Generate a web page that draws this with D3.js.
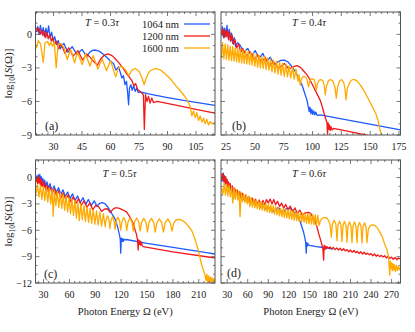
<!DOCTYPE html>
<html><head><meta charset="utf-8">
<script src="https://cdn.jsdelivr.net/npm/d3@7"></script>
<style>
html,body{margin:0;padding:0;background:#fff;}
svg{display:block;}
svg text{font-family:"Liberation Serif","Times New Roman",serif;}
</style></head><body>
<svg id="c" width="415" height="332"></svg>
<script>
// ---------- data ----------
const seriesNames = ["1064 nm", "1200 nm", "1600 nm"];
const seriesColors = ["#1e5aff", "#f01a1a", "#ffaa00"];
const panelTitles = ["0.3", "0.4", "0.5", "0.6"];
const panelLetters = ["(a)", "(b)", "(c)", "(d)"];

const xTicksA = [30, 45, 60, 75, 90, 105];
const xTicksB = [25, 50, 75, 100, 125, 150, 175];
const xTicksC = [30, 60, 90, 120, 150, 180, 210];
const xTicksD = [30, 60, 90, 120, 150, 180, 210, 240, 270];
const yTicksAB = [0, -3, -6, -9];
const yTicksCD = [0, -3, -6, -9, -12];

// Panel (a) T = 0.3 tau
const a1064 = [[21,0.2],[21.7,0.7],[22.4,0.0],[23.1,0.8],[23.8,0.1],[24.6,0.6],[25.3,-0.2],[26,0.55],[26.7,-0.1],[27.4,0.75],[28.2,-0.3],[29,0.2],[29.8,-0.6],[30.6,-0.2],[31.5,-0.9],[32.5,-0.55],[33.5,-1.3],[35.4,-0.8],[37.5,-1.6],[39.8,-1.1],[42.3,-1.8],[45,-1.34],[47.5,-2.0],[49,-1.6],[50.5,-1.43],[52,-1.4],[54,-1.5],[56,-1.75],[58,-2.05],[60,-2.4],[61.6,-2.6],[62.8,-3.2],[64.2,-2.9],[65.3,-3.5],[66,-3.9],[66.8,-3.7],[67.6,-4.5],[68.4,-4.2],[69,-5.2],[69.5,-6.3],[70,-4.8],[70.7,-4.5],[71.4,-5.0],[72.2,-4.6],[73,-5.1],[73.8,-4.8],[74.6,-5.2],[75.6,-5.15],[80,-5.33],[90,-5.65],[100,-5.95],[115,-6.35]];
const a1200 = [[21,0.6],[21.6,0.3],[22.3,0.55],[23,0.0],[23.7,0.4],[24.4,-0.1],[25.1,0.3],[25.8,-0.3],[26.5,0.15],[27.2,-0.4],[28,0.0],[28.8,-0.6],[29.6,-0.3],[30.5,-0.9],[31.5,-0.6],[32.6,-1.3],[34,-0.85],[36,-1.7],[38,-1.2],[40.3,-1.95],[42.8,-1.45],[45.3,-2.3],[47.5,-1.75],[49.5,-2.1],[51.5,-2.5],[53.1,-2.75],[54.8,-2.2],[56.8,-1.85],[58.8,-1.75],[60.8,-1.9],[62.6,-2.2],[64.2,-2.5],[66.5,-3.0],[68.8,-3.6],[70,-3.85],[71.3,-4.15],[72.3,-4.6],[73.2,-4.4],[74.2,-4.9],[75.6,-5.1],[77.3,-5.4],[77.8,-8.5],[78.4,-5.4],[79.2,-6.0],[80,-5.55],[80.8,-6.15],[81.7,-5.7],[82.6,-6.1],[84.5,-6.0],[95,-6.35],[105,-6.7],[115,-7.05]];
const a1600 = [[21,-1.25],[22,-0.55],[23.2,-0.9],[24.6,-2.5],[25.5,-0.75],[26.9,-0.65],[27.8,-1.0],[28.6,-0.7],[29.5,-1.1],[30.4,-0.65],[31.4,-3.0],[32.4,-0.95],[33.8,-0.8],[35.5,-1.2],[37.2,-2.25],[39,-1.35],[41.1,-2.55],[42.6,-1.6],[45.1,-2.7],[46.9,-1.75],[49.2,-2.85],[50.9,-1.9],[53.3,-3.1],[55.6,-2.2],[57.9,-3.25],[60,-2.35],[62.7,-3.8],[64.2,-3.0],[66,-2.85],[68,-3.2],[69.6,-3.7],[71.2,-3.2],[73,-3.05],[75,-3.3],[76.6,-3.9],[77.7,-4.5],[78.8,-3.9],[80.5,-3.3],[83.5,-3.05],[86.5,-3.2],[88.5,-3.5],[91.4,-3.95],[94.9,-4.7],[97.5,-5.2],[99.3,-5.6],[101,-6.1],[102,-6.5],[102.8,-7.3],[103.7,-6.85],[104.6,-7.45],[105.4,-7.0],[106.3,-7.7],[107.2,-7.3],[108.1,-7.85],[109,-7.5],[109.8,-8.0],[110.7,-7.6],[111.6,-8.1],[112.5,-7.8],[113.5,-8.0],[115,-7.9]];

// Panel (b) T = 0.4 tau
const b1064 = [[21,0.1],[21.8,0.7],[22.8,-0.3],[23.8,0.55],[24.8,-0.2],[25.8,0.8],[26.8,-0.3],[27.8,0.45],[28.8,-0.6],[29.8,0.1],[30.8,-0.8],[32,-0.3],[33.2,-1.1],[35,-0.75],[37.1,-0.95],[40.5,-1.6],[43.8,-1.25],[47,-1.95],[50.2,-1.45],[53.5,-2.15],[56.9,-1.7],[60,-2.45],[63.3,-2.05],[66.8,-2.7],[70,-2.45],[72.5,-2.33],[75.5,-2.3],[78.5,-2.45],[81.5,-2.8],[84.9,-3.3],[87.8,-3.9],[90.8,-4.5],[93,-5.2],[95.2,-5.9],[96.4,-6.5],[97.1,-6.9],[97.8,-6.5],[98.6,-7.1],[99.4,-6.7],[100.2,-7.15],[101,-6.85],[101.9,-7.2],[102.8,-6.95],[104,-7.25],[106.6,-7.2],[176.3,-8.55]];
const b1200 = [[21,0.3],[21.6,-0.1],[22.5,0.5],[23.4,-0.3],[24.3,0.35],[25.2,-0.2],[26.2,0.4],[27.2,-0.5],[28.2,0.2],[29.2,-0.6],[30.3,-0.1],[31.4,-0.9],[32.7,-0.45],[34.2,-1.2],[36,-0.9],[37.8,-1.6],[39.4,-1.25],[42.6,-1.95],[45.8,-1.55],[49.2,-2.25],[52.5,-1.85],[55.7,-2.5],[58.9,-2.05],[62.5,-2.85],[66.1,-2.45],[70.5,-3.05],[75.5,-2.6],[79.5,-3.1],[83,-2.9],[86.4,-2.8],[89.5,-2.95],[92.5,-3.3],[95.1,-3.6],[98,-4.1],[100.9,-4.7],[103.8,-5.3],[106.7,-5.9],[108.5,-6.5],[110.1,-7.1],[111.3,-7.5],[112.5,-7.9],[113,-8.9],[113.5,-7.9],[114.1,-8.5],[114.7,-8.1],[115.3,-8.6],[116,-8.25],[117,-8.55],[118.2,-8.4],[130,-8.65],[146,-9.0],[150,-9.1]];
const b1600 = [[21,-2.1],[22,-0.75],[23.1,-2.2],[24.2,-0.85],[25.3,-2.25],[26.4,-0.95],[27.5,-2.3],[28.6,-1.05],[29.7,-2.35],[30.8,-1.1],[31.9,-2.4],[33,-1.2],[34.1,-2.45],[35.2,-1.25],[36.3,-2.5],[37.4,-1.35],[38.5,-2.55],[39.6,-1.4],[40.7,-2.6],[41.9,-1.45],[43,-2.65],[44.2,-1.5],[45.3,-2.7],[46.5,-1.6],[47.6,-2.75],[48.8,-1.7],[50,-2.85],[51.2,-1.8],[52.4,-2.95],[53.6,-1.85],[54.8,-3.0],[56,-1.95],[57.2,-3.05],[58.5,-2.0],[59.7,-3.15],[61,-2.1],[62.2,-3.2],[63.5,-2.2],[64.8,-3.35],[66.1,-2.3],[67.4,-3.45],[68.7,-2.4],[70,-3.55],[71.4,-2.5],[72.7,-3.65],[74.1,-2.6],[75.5,-3.75],[76.9,-2.7],[78.3,-3.8],[79.7,-2.8],[81.1,-3.9],[82.6,-2.9],[84.1,-4.0],[85.6,-3.1],[87.4,-4.2],[88.4,-3.6],[89.3,-4.55],[90.3,-4.0],[91.5,-3.8],[92.8,-3.75],[94.2,-3.85],[95.5,-4.15],[96.5,-4.7],[97.5,-4.2],[98.7,-4.0],[100,-3.98],[101.4,-4.05],[102.4,-4.4],[103.2,-5.0],[104.3,-4.4],[105.8,-4.1],[107.3,-4.05],[109,-4.15],[110.2,-4.6],[111,-5.4],[112.2,-4.6],[113.8,-4.15],[115.4,-4.05],[117.5,-4.15],[119.4,-4.7],[120.6,-5.7],[121.8,-4.7],[123.5,-4.15],[125.2,-4.05],[127,-4.3],[128.2,-4.9],[129,-5.85],[130.3,-4.8],[132.5,-4.25],[134.5,-4.05],[136.5,-4.05],[139,-4.2],[142,-4.6],[145,-5.1],[147.5,-5.6],[150,-6.1],[152.5,-6.6],[154.8,-7.05],[156.8,-7.7],[158.4,-8.5],[160,-9.1],[161,-9.5]];

// Panel (c) T = 0.5 tau
const c1064 = [[21.5,-0.3],[22.3,0.2],[23.2,-0.5],[24,0.3],[24.9,-0.4],[25.7,0.35],[26.6,-0.3],[27.4,0.1],[28.3,-0.6],[29.2,-0.1],[30.2,-0.8],[31.3,-0.3],[32.5,-1.0],[34,-0.5],[35.5,-1.2],[37.5,-0.7],[39.8,-1.5],[42.3,-0.95],[44.8,-1.7],[47.4,-1.15],[50,-1.95],[52.6,-1.4],[55.3,-2.15],[58,-1.65],[60.8,-2.4],[63.6,-1.85],[66.5,-2.6],[69.5,-2.1],[72.5,-2.85],[75.7,-2.3],[79,-3.05],[82,-2.5],[85.3,-3.2],[88.7,-2.65],[92,-3.25],[95,-2.95],[98.3,-2.85],[101.5,-3.0],[104.5,-3.35],[106.8,-3.7],[109.8,-4.2],[112.6,-4.65],[114.6,-5.2],[116.4,-5.8],[118.4,-6.7],[119,-7.1],[119.5,-8.6],[120.2,-6.9],[121,-7.3],[121.8,-6.95],[122.6,-7.25],[123.4,-7.0],[124.3,-7.1],[125.9,-7.05],[150,-7.5],[180,-7.95],[219,-8.55],[228.8,-8.7]];
const c1200 = [[21.5,-0.5],[22.2,0.0],[23,-0.7],[23.8,0.1],[24.6,-0.6],[25.4,0.05],[26.3,-0.8],[27.2,-0.2],[28.1,-1.0],[29.1,-0.4],[30.1,-1.2],[31.3,-0.6],[32.6,-1.4],[34,-0.9],[35.6,-1.6],[37.5,-1.0],[40,-1.8],[42.5,-1.3],[45,-2.05],[47.6,-1.5],[50.3,-2.3],[53,-1.75],[55.8,-2.5],[58.6,-1.95],[61.5,-2.75],[64.4,-2.2],[67.5,-2.95],[70.6,-2.4],[73.8,-3.15],[77,-2.65],[80.3,-3.4],[83.6,-2.9],[87.2,-3.65],[90.7,-3.15],[94.2,-3.35],[97.3,-3.85],[100.5,-3.6],[104,-3.55],[107.5,-4.0],[110.6,-3.6],[113,-3.45],[115.3,-3.45],[118,-3.5],[121,-3.65],[124,-3.8],[126.2,-3.9],[129,-4.3],[131.5,-4.75],[133.9,-5.2],[136,-5.9],[137.8,-6.5],[139,-7.1],[139.7,-8.25],[140.4,-7.1],[141.1,-7.6],[141.8,-7.2],[142.6,-7.7],[143.4,-7.35],[144.4,-7.75],[145.5,-7.85],[180,-8.45],[223,-9.07],[228.8,-9.15]];
const c1600 = [[21.5,-1.8],[23,-0.8],[24.7,-2.2],[26.4,-0.9],[28.1,-2.5],[29.8,-1.0],[31.5,-2.6],[33.2,-1.1],[34.9,-2.8],[36.6,-1.2],[38.3,-3.0],[40,-1.35],[41.2,-4.4],[42.6,-1.5],[44.3,-3.2],[46,-1.6],[47.7,-3.4],[49.4,-1.75],[51.1,-3.5],[52.8,-1.95],[54.5,-3.7],[56.2,-2.1],[57.9,-3.9],[59.6,-2.3],[61.3,-4.1],[63,-2.45],[64.7,-4.3],[66.4,-2.6],[68.1,-4.6],[69.8,-2.8],[71.5,-4.9],[73.2,-3.0],[75,-4.8],[76.8,-3.2],[78.6,-5.0],[80.4,-3.35],[82.2,-5.1],[84,-3.5],[85.8,-5.2],[87.6,-3.65],[89.5,-5.3],[91.4,-3.8],[93.3,-5.4],[95.3,-3.95],[97.3,-5.5],[99.4,-4.1],[101.5,-5.6],[102.6,-4.8],[104.25,-4.35],[105.9,-4.8],[107,-5.8],[108.2,-4.9],[110,-4.45],[111.8,-4.9],[113,-5.9],[114.3,-4.95],[116.25,-4.5],[118.2,-4.95],[119.5,-6.0],[120.9,-5.0],[123,-4.55],[125.1,-5.0],[126.5,-6.0],[128,-5.05],[130.25,-4.6],[132.5,-5.05],[134,-6.1],[135.6,-5.05],[138,-4.6],[140.4,-5.05],[142,-6.1],[143.7,-5.1],[146.25,-4.65],[148.8,-5.1],[150.5,-6.2],[152.3,-5.1],[155,-4.65],[157.7,-5.1],[159.5,-6.2],[161.4,-5.15],[164.25,-4.7],[167.1,-5.15],[169,-6.2],[171,-5.15],[174,-4.7],[177,-5.15],[179,-6.1],[181,-5.15],[184,-4.8],[188,-4.75],[192,-4.95],[195,-5.2],[198.5,-5.6],[201.7,-6.0],[205.5,-7.0],[209.4,-8.25],[213.4,-9.95],[217.2,-11.1],[218.3,-11.7],[219.3,-11.0],[220.3,-11.9],[221.3,-11.2],[222.3,-12.0],[223.3,-11.3],[224.3,-11.9],[225.3,-11.4],[226.3,-12.0],[227.3,-11.5],[228.8,-11.8]];

// Panel (d) T = 0.6 tau
const d1064 = [[22,-0.5],[22.8,0.3],[23.6,-0.3],[24.4,0.5],[25.2,-0.4],[26,0.2],[26.9,-0.7],[27.8,0.0],[28.8,-0.9],[29.8,-0.3],[30.9,-1.1],[32,-0.6],[33.2,-1.3],[34.5,-0.8],[36,-1.6],[37.6,-1.0],[39.2,-2.4],[40.5,-1.3],[42.2,-2.0],[44,-1.5],[46,-2.2],[48,-1.7],[50.2,-2.4],[52.5,-1.9],[55,-2.6],[57.5,-2.1],[60,-2.45],[63.5,-3.0],[67,-2.6],[70.5,-3.2],[74,-2.8],[78,-3.4],[82,-3.0],[85,-3.6],[89.8,-3.3],[96.5,-3.9],[104.4,-3.4],[111,-4.0],[116,-3.55],[120,-3.5],[124,-3.6],[128,-3.95],[131,-4.3],[133.5,-4.6],[136.6,-5.0],[139,-5.6],[141.5,-6.2],[143.5,-6.9],[144.6,-7.4],[145.4,-8.6],[146.2,-7.4],[147,-7.8],[147.8,-7.5],[148.8,-7.7],[160,-7.85],[170.7,-7.96],[185,-8.15]];
const d1200 = [[22,-0.3],[22.8,0.45],[23.6,-0.2],[24.4,0.35],[25.2,-0.5],[26,0.2],[26.9,-0.6],[27.8,0.1],[28.8,-0.8],[29.8,-0.2],[30.9,-1.0],[32,-0.5],[33.2,-1.2],[34.5,-0.7],[36,-1.4],[37.6,-0.95],[39.3,-1.6],[41,-1.2],[42.8,-1.9],[44.6,-1.4],[46.5,-2.1],[48.4,-1.6],[50.4,-2.3],[52.4,-1.8],[54.6,-2.5],[56.8,-2.0],[59,-2.7],[61.4,-2.15],[63.8,-2.9],[66.3,-2.3],[68.8,-3.0],[71.4,-2.45],[74,-3.1],[76.7,-2.55],[79.4,-3.15],[82.2,-2.6],[85,-3.1],[87.5,-2.5],[90,-2.9],[92.7,-2.45],[95.5,-3.0],[98,-2.5],[100.8,-3.1],[103.5,-2.7],[106.5,-3.3],[109.5,-2.9],[112.5,-3.5],[115.5,-3.05],[118.8,-3.7],[122,-3.25],[125.5,-3.9],[129,-3.45],[132.5,-4.1],[136,-3.7],[139.5,-4.3],[143,-4.05],[146,-4.0],[149,-3.95],[152,-4.1],[155,-4.5],[158.6,-5.0],[161,-5.6],[163.5,-6.35],[166,-7.0],[168.3,-7.65],[169.8,-8.2],[170.8,-9.4],[171.6,-7.7],[172.5,-8.2],[173.4,-7.8],[174.4,-8.1],[175.7,-7.86],[178,-8.05],[180,-7.9],[182.5,-8.1],[185,-7.95],[187.5,-8.2],[190,-8.0],[192.5,-8.25],[195,-8.05],[197.5,-8.3],[200,-8.1],[202.5,-8.35],[205,-8.2],[207.5,-8.45],[210,-8.25],[212.5,-8.5],[215,-8.3],[217.5,-8.55],[220,-8.4],[222.5,-8.65],[225,-8.45],[227.5,-8.7],[230,-8.5],[232.5,-8.75],[235,-8.6],[237.5,-8.8],[240,-8.65],[242.5,-8.9],[245,-8.7],[247.5,-8.95],[250,-8.8],[252.5,-9.0],[255,-8.85],[257.5,-9.05],[260,-8.9],[262.5,-9.15],[265,-8.95],[267.5,-9.2],[270,-9.05],[272.5,-9.3],[275,-9.1],[277.5,-9.35],[280,-9.15],[283,-9.3]];
const d1600 = [[22,-1.2],[23.8,-1.9],[25.6,-0.6],[27.4,-2.0],[29.2,-0.75],[31,-2.1],[32.8,-0.85],[34.6,-2.2],[36.4,-1.05],[38.2,-2.9],[40,-1.2],[41.8,-2.45],[43.6,-1.4],[45.4,-2.55],[47.2,-1.55],[48.8,-4.45],[50.5,-1.7],[52.3,-2.75],[54.1,-1.85],[55.9,-2.85],[57.7,-2.0],[59.5,-3.0],[61.3,-2.15],[63.1,-3.3],[64.9,-2.3],[66.7,-3.35],[68.5,-2.45],[70.3,-3.45],[72.1,-2.55],[73.9,-3.55],[75.7,-2.65],[77.5,-3.65],[79.3,-2.8],[81.1,-3.7],[82.9,-2.85],[84.7,-3.8],[86.5,-2.95],[88.3,-3.9],[90.1,-3.0],[91.9,-4.0],[93.7,-3.1],[95.5,-4.05],[97.3,-3.2],[99.1,-4.15],[100.9,-3.3],[102.7,-4.25],[104.5,-3.4],[106.3,-4.35],[108.1,-3.5],[109.9,-4.45],[111.7,-3.55],[113.5,-4.55],[115.3,-3.6],[117.1,-4.6],[118.9,-3.65],[120.7,-4.7],[122.5,-3.7],[124.3,-4.75],[126.1,-3.8],[127.9,-4.85],[129.7,-3.85],[131.5,-4.9],[133.3,-3.95],[135.1,-5.0],[136.9,-4.0],[138.7,-5.05],[140.5,-4.05],[142.3,-5.1],[144.1,-4.1],[145.9,-5.2],[147.7,-4.1],[149.5,-5.25],[151.3,-4.15],[153.1,-5.3],[154.9,-4.2],[156.7,-5.35],[158.5,-4.25],[160.3,-5.4],[162.2,-4.3],[164.2,-5.45],[166,-4.9],[168.5,-4.65],[171,-4.55],[173.4,-4.55],[176,-4.65],[178.5,-4.95],[180.5,-5.5],[182,-6.8],[183.6,-5.3],[186.2,-4.85],[188.7,-5.3],[190.3,-7.2],[191.8,-5.4],[194,-4.95],[196.1,-5.4],[197.6,-7.3],[199.1,-5.45],[201.2,-5.0],[203.4,-5.45],[204.9,-7.35],[206.4,-5.5],[208.5,-5.05],[210.7,-5.5],[212.2,-7.4],[213.7,-5.5],[215.8,-5.05],[218,-5.5],[219.5,-7.4],[221,-5.55],[223.2,-5.1],[225.3,-5.55],[226.8,-7.45],[228.3,-5.6],[230.5,-5.15],[232.6,-5.6],[234.1,-7.4],[236,-5.9],[238.5,-5.5],[241,-5.4],[244,-5.4],[248,-5.6],[252,-6.1],[256.2,-6.7],[260,-7.6],[263.5,-8.25],[265.5,-9.0],[267.3,-11.1],[268.2,-9.5],[269,-10.3],[270,-9.7],[271,-10.6],[272,-9.8],[273,-10.5],[274.2,-9.9],[275.5,-10.7],[277,-10.0],[278.5,-10.6],[280,-10.1],[281.5,-10.5],[283,-10.2]];

// ---------- layout ----------
const panels = [
  {box:[35.5,12,215,135],  xd:[20.5,115],   yd:[-9,2],  xt:xTicksA, xm:3,  yt:yTicksAB, ylab:true,  data:[a1064,a1200,a1600], tx:102, ty:26,  lx:45,  ly:130},
  {box:[221,12,400.5,135], xd:[20.6,176.3], yd:[-9,2],  xt:xTicksB, xm:5,  yt:yTicksAB, ylab:false, data:[b1064,b1200,b1600], tx:309, ty:26,  lx:232, ly:130},
  {box:[35.5,160,215,283], xd:[20.7,228.8], yd:[-12,2], xt:xTicksC, xm:6,  yt:yTicksCD, ylab:true,  data:[c1064,c1200,c1600], tx:119.5, ty:177, lx:44, ly:278},
  {box:[221,160,400.5,283],xd:[21,283],     yd:[-12,2], xt:xTicksD, xm:10, yt:yTicksCD, ylab:false, data:[d1064,d1200,d1600], tx:309, ty:177, lx:227, ly:277}
];

const svg = d3.select("#c");
const fmt = v => (v < 0 ? "\u2212" + Math.abs(v) : String(v));

panels.forEach((p, i) => {
  const [x0, y0, x1, y1] = p.box;
  const x = d3.scaleLinear().domain(p.xd).range([x0, x1]);
  const y = d3.scaleLinear().domain(p.yd).range([y1, y0]);
  const g = svg.append("g");
  const cid = "clip" + i;
  svg.append("clipPath").attr("id", cid).append("rect")
    .attr("x", x0).attr("y", y0).attr("width", x1 - x0).attr("height", y1 - y0);

  const line = d3.line().x(d => x(d[0])).y(d => y(d[1]));
  const lg = g.append("g").attr("clip-path", `url(#${cid})`);
  p.data.forEach((s, k) => {
    lg.append("path").datum(s).attr("d", line)
      .attr("fill", "none").attr("stroke", seriesColors[k])
      .attr("stroke-width", 1.3).attr("stroke-linejoin", "round");
  });

  // axes (ticks inward on all sides)
  const ax = g.append("g").attr("stroke", "#555").attr("stroke-width", 0.8);
  const xMinor = d3.range(Math.ceil(p.xd[0] / p.xm) * p.xm, p.xd[1] + 1e-9, p.xm);
  const yMinor = d3.range(p.yd[0], p.yd[1] + 1e-9, 1);
  xMinor.forEach(v => {
    const L = p.xt.includes(v) ? 4 : 2;
    ax.append("line").attr("x1", x(v)).attr("x2", x(v)).attr("y1", y1).attr("y2", y1 - L);
    ax.append("line").attr("x1", x(v)).attr("x2", x(v)).attr("y1", y0).attr("y2", y0 + L);
  });
  p.xt.filter(v => !xMinor.includes(v)).forEach(v => {
    ax.append("line").attr("x1", x(v)).attr("x2", x(v)).attr("y1", y1).attr("y2", y1 - 4);
    ax.append("line").attr("x1", x(v)).attr("x2", x(v)).attr("y1", y0).attr("y2", y0 + 4);
  });
  yMinor.forEach(v => {
    const L = p.yt.includes(v) ? 4 : 2;
    ax.append("line").attr("y1", y(v)).attr("y2", y(v)).attr("x1", x0).attr("x2", x0 + L);
    ax.append("line").attr("y1", y(v)).attr("y2", y(v)).attr("x1", x1).attr("x2", x1 - L);
  });
  g.append("rect").attr("x", x0).attr("y", y0).attr("width", x1 - x0).attr("height", y1 - y0)
    .attr("fill", "none").attr("stroke", "#555").attr("stroke-width", 1);

  // tick labels
  g.selectAll(null).data(p.xt).enter().append("text")
    .attr("x", d => x(d)).attr("y", y1 + 15).attr("text-anchor", "middle")
    .attr("font-size", 10).attr("fill", "#222").text(d => d);
  if (p.ylab) {
    g.selectAll(null).data(p.yt).enter().append("text")
      .attr("x", x0 - 3.5).attr("y", d => y(d) + 3.5).attr("text-anchor", "end")
      .attr("font-size", 10).attr("fill", "#222").text(fmt);
    const yl = g.append("text").attr("transform", `translate(12,${(y0 + y1) / 2}) rotate(-90)`)
      .attr("text-anchor", "middle").attr("font-size", 11).attr("fill", "#222");
    yl.append("tspan").text("log");
    yl.append("tspan").attr("font-size", 7.5).attr("dy", 3).text("10");
    yl.append("tspan").attr("dy", -3).text("[");
    yl.append("tspan").attr("font-style", "italic").text("S");
    yl.append("tspan").text("(\u03A9)]");
  }
  // T label
  const t = g.append("text").attr("x", p.tx).attr("y", p.ty).attr("text-anchor", "middle")
    .attr("font-size", 10.5).attr("fill", "#222");
  t.append("tspan").attr("font-style", "italic").text("T");
  t.append("tspan").text(" = " + panelTitles[i]);
  t.append("tspan").attr("font-style", "italic").text("\u03C4");
  // panel letter
  g.append("text").attr("x", p.lx).attr("y", p.ly).attr("font-size", 12).attr("fill", "#222").text(panelLetters[i]);
  // x label (bottom row)
  if (i >= 2) {
    g.append("text").attr("x", (x0 + x1) / 2).attr("y", 315).attr("text-anchor", "middle")
      .attr("font-size", 10.5).attr("fill", "#222").text("Photon Energy \u03A9 (eV)");
  }
});

// legend in panel (a)
const leg = svg.append("g");
seriesNames.forEach((n, k) => {
  const yy = 24 + k * 12;
  leg.append("text").attr("x", 179).attr("y", yy + 3.5).attr("text-anchor", "end")
    .attr("font-size", 10.5).attr("fill", "#222").text(n);
  leg.append("line").attr("x1", 184).attr("x2", 210).attr("y1", yy).attr("y2", yy)
    .attr("stroke", seriesColors[k]).attr("stroke-width", 1.3);
});
</script>
</body></html>
